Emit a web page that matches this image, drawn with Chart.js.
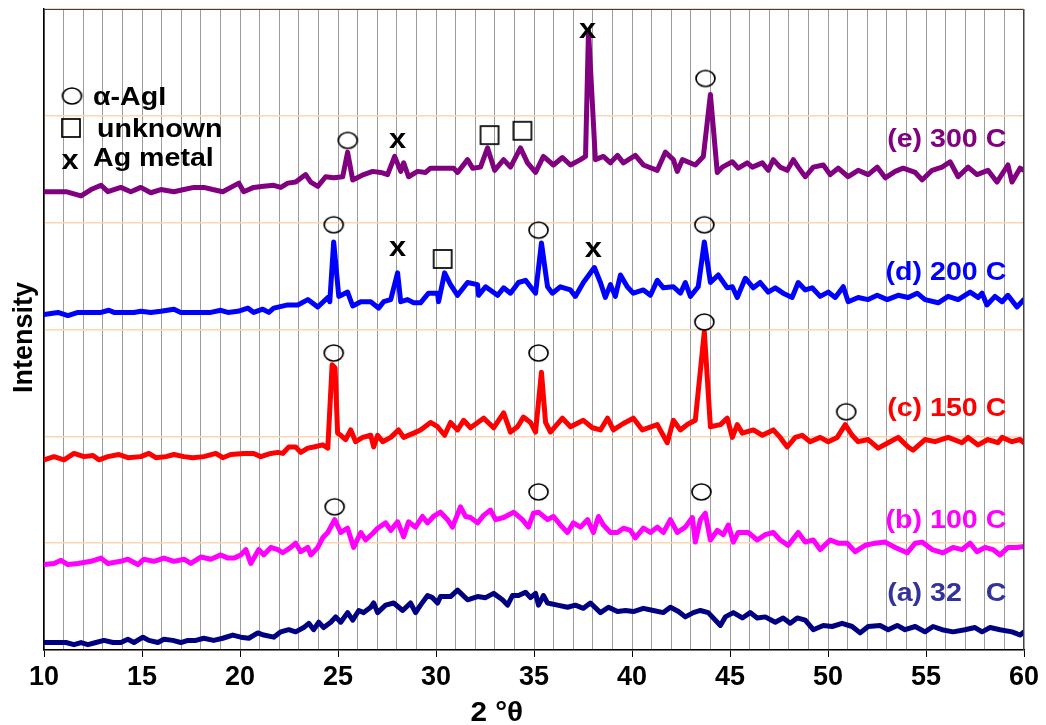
<!DOCTYPE html>
<html>
<head>
<meta charset="utf-8">
<script src="https://cdn.jsdelivr.net/npm/chart.js@4.4.1/dist/chart.umd.min.js"></script>
<style>
  html, body { margin: 0; padding: 0; background: #fff; }
  #wrap { width: 1046px; height: 725px; }
</style>
</head>
<body>
<div id="wrap"><canvas id="xrdChart" width="1046" height="725"></canvas></div>
<script>
// Axis labels
const xTickLabels = [10, 15, 20, 25, 30, 35, 40, 45, 50, 55, 60];
const seriesNames = ["(a) 32   C", "(b) 100 C", "(c) 150 C", "(d) 200 C", "(e) 300 C"];

// (a) 32 C
const thetaA = [10.0,10.61,11.12,11.53,11.89,12.24,12.65,13.06,13.52,13.92,
  14.28,14.59,15.05,15.35,15.81,16.12,16.57,16.98,17.34,17.75,
  18.15,18.66,19.12,19.63,20.04,20.45,20.91,21.21,21.72,22.08,
  22.49,22.84,23.25,23.51,23.76,24.02,24.27,24.63,24.88,25.14,
  25.49,25.75,26.06,26.31,26.67,26.82,27.02,27.43,27.84,28.3,
  28.7,28.96,29.21,29.57,29.82,30.08,30.23,30.74,31.1,31.61,
  32.12,32.53,32.94,33.39,33.65,33.9,34.21,34.57,34.82,35.08,
  35.23,35.48,35.69,36.2,36.71,37.11,37.52,37.88,38.39,38.8,
  39.26,39.67,40.07,40.58,41.09,41.6,41.96,42.37,42.72,43.13,
  43.49,43.89,44.51,44.76,45.17,45.63,46.03,46.39,46.8,47.31,
  47.71,48.07,48.43,48.84,49.25,49.76,50.21,50.72,51.23,51.64,
  52.05,52.66,53.07,53.53,53.93,54.45,54.95,55.36,55.82,56.38,
  56.99,57.5,57.86,58.27,58.78,59.39,59.8,60];
const intensityA = [7,7,7,5,7,5,7,9,7,7,
  10,7,12,9,7,10,9,7,9,9,
  11,9,11,14,12,11,16,14,12,17,
  19,17,21,25,19,26,21,26,31,26,
  35,28,37,35,40,44,35,42,44,37,
  44,35,42,51,49,44,50,50,56,47,
  50,49,53,47,42,51,51,54,49,53,
  42,51,44,42,40,42,39,44,35,40,
  36,37,36,39,37,35,40,36,31,35,
  37,35,23,31,35,30,35,30,31,26,
  30,25,30,28,19,23,22,25,22,16,
  22,23,19,23,19,22,17,22,19,17,
  19,21,17,21,19,17,14,17];

// (b) 100 C
const thetaB = [10.0,10.51,10.87,11.22,11.73,12.4,12.91,13.26,13.92,14.28,
  14.79,15.1,15.61,16.12,16.63,17.14,17.49,18.0,18.51,19.02,
  19.38,19.69,20.04,20.3,20.55,20.96,21.21,21.57,21.93,22.18,
  22.59,22.84,23.1,23.46,23.61,23.97,24.22,24.48,24.83,25.14,
  25.49,25.8,26.16,26.41,26.82,27.02,27.43,27.69,28.04,28.35,
  28.6,28.96,29.31,29.57,29.87,30.23,30.59,30.84,31.25,31.51,
  31.76,32.12,32.43,32.78,33.04,33.45,33.96,34.41,34.72,34.97,
  35.23,35.69,35.99,36.35,36.71,37.01,37.37,37.73,38.03,38.29,
  38.54,38.9,39.26,39.56,39.92,40.17,40.58,40.94,41.29,41.6,
  41.96,42.31,42.72,43.08,43.23,43.49,43.74,44.0,44.35,44.66,
  44.92,45.17,45.42,45.93,46.39,46.8,47.21,47.56,47.97,48.48,
  48.84,49.25,49.6,50.11,50.52,50.98,51.39,51.9,52.41,52.92,
  53.43,54.04,54.45,54.8,55.31,55.87,56.38,56.84,57.25,57.6,
  58.01,58.42,58.78,59.18,59.64,60];
const intensityB = [80,81,84,80,81,83,86,81,83,85,
  80,85,83,86,83,85,81,87,85,89,
  86,86,89,94,81,94,89,96,94,91,
  96,100,92,96,89,96,105,110,122,110,
  114,96,110,103,110,114,119,112,120,106,
  120,115,125,119,125,129,122,115,134,125,
  124,119,126,131,122,124,129,122,115,128,
  129,122,125,117,110,119,115,122,110,125,
  117,110,110,114,112,105,114,110,115,110,
  122,110,115,124,101,122,128,103,112,108,
  117,101,110,110,103,108,110,103,98,110,
  101,103,94,103,100,100,92,98,100,101,
  96,91,100,101,94,91,96,94,100,92,
  96,94,89,96,96,97];

// (c) 150 C
const thetaC = [10.0,10.51,11.02,11.53,12.04,12.5,12.8,13.26,13.82,14.28,
  14.94,15.35,15.71,16.22,16.63,17.14,17.59,18.15,18.77,19.12,
  19.53,20.19,20.7,21.06,21.57,21.93,22.18,22.49,22.84,23.1,
  23.46,23.76,24.22,24.48,24.7,24.85,24.98,25.14,25.39,25.65,25.9,
  26.26,26.67,26.82,27.02,27.28,27.69,28.09,28.35,28.86,29.21,
  29.72,30.08,30.44,30.74,31.1,31.41,31.76,32.43,32.94,33.45,
  33.8,34.16,34.46,34.82,35.08,35.38,35.59,35.84,36.45,36.86,
  37.52,37.98,38.39,38.75,39.05,39.56,40.07,40.53,41.29,41.8,
  42.11,42.47,42.82,43.23,43.69,44.0,44.51,44.86,45.12,45.37,
  45.63,46.19,46.65,47.21,47.56,47.92,48.33,48.68,49.09,49.6,
  50.01,50.47,50.88,51.23,51.54,52.05,52.56,53.07,53.58,54.09,
  54.34,54.95,55.46,56.13,56.84,57.15,57.66,58.16,58.67,58.88,
  59.39,59.8,60];
const intensityC = [178,181,178,184,181,182,178,181,183,180,
  181,184,180,181,183,181,180,181,184,180,
  183,184,184,181,184,185,184,190,190,185,
  189,190,192,189,267,264,203,201,197,206,195,
  199,201,190,201,195,199,206,199,203,206,
  213,209,201,213,206,215,208,217,208,222,
  204,209,218,213,204,260,213,204,217,209,
  215,208,206,217,206,212,217,206,211,194,
  215,206,211,215,298,209,211,217,199,211,
  203,206,201,206,199,190,199,201,195,199,
  195,199,211,201,195,197,189,194,199,190,
  187,197,195,199,194,199,192,197,194,199,
  195,197,194];

// (d) 200 C
const thetaD = [10.0,10.71,11.22,11.73,12.4,12.91,13.31,13.57,14.08,14.59,
  14.94,15.45,15.96,16.63,16.98,17.49,18.0,18.51,19.02,19.38,
  19.89,20.4,20.7,21.16,21.47,21.72,22.44,22.95,23.46,23.97,
  24.48,24.58,24.78,25.04,25.49,25.75,26.16,26.67,27.07,27.33,
  27.69,28.04,28.2,28.55,28.86,29.21,29.62,30.08,30.13,30.44,
  30.74,31.1,31.61,32.12,32.17,32.53,33.14,33.45,33.8,34.21,
  34.57,34.82,35.08,35.38,35.69,35.94,36.35,36.86,37.11,37.52,
  38.08,38.39,38.64,38.9,39.15,39.41,39.76,40.07,40.58,40.94,
  41.29,41.6,42.11,42.47,42.72,42.98,43.38,43.69,44.0,44.4,
  44.86,45.12,45.37,45.78,46.19,46.54,46.95,47.31,47.71,48.17,
  48.48,48.84,49.19,49.6,50.01,50.37,50.78,51.03,51.54,52.05,
  52.51,53.02,53.58,54.09,54.55,54.95,55.62,56.13,56.64,57.25,
  57.66,57.86,58.11,58.52,58.88,59.18,59.64,60];
const intensityD = [314,316,313,316,316,316,318,316,316,316,
  317,316,317,319,316,316,316,316,318,316,
  317,320,316,319,316,320,323,323,328,321,
  330,326,382,331,335,322,326,326,320,326,
  328,353,326,328,325,325,334,334,326,353,
  342,332,344,342,332,340,332,339,334,344,
  346,340,334,381,340,334,340,337,331,344,
  358,344,330,342,331,351,340,334,337,332,
  346,339,340,334,344,331,340,382,344,351,
  339,340,330,348,339,344,335,339,334,330,
  344,337,339,331,335,330,340,326,330,328,
  332,328,332,330,334,328,325,331,328,335,
  330,334,323,331,326,332,321,328];

// (e) 300 C
const thetaE = [10.0,11.12,11.89,12.4,12.91,13.26,13.92,14.43,14.94,15.45,
  15.96,16.63,17.14,17.65,18.15,18.61,19.12,19.63,19.94,20.19,
  20.7,21.21,21.72,22.08,22.44,22.84,23.35,23.61,23.97,24.37,
  24.78,25.24,25.49,25.75,26.31,26.77,27.18,27.53,27.89,28.2,
  28.35,28.6,29.06,29.47,29.72,30.08,30.9,31.1,31.61,31.87,
  32.27,32.63,32.99,33.45,33.8,34.31,34.67,35.08,35.48,35.99,
  36.45,36.86,37.37,37.63,37.78,38.13,38.54,38.9,39.26,39.56,
  40.17,40.58,41.29,41.7,42.11,42.31,42.57,43.23,43.64,44.0,
  44.35,44.61,45.12,45.42,45.88,46.14,46.65,46.95,47.21,47.56,
  47.92,48.23,48.48,48.84,49.25,49.76,50.11,50.52,51.03,51.54,
  52.05,52.51,52.92,53.43,53.83,54.45,54.8,55.31,55.82,56.23,
  56.64,57.15,57.6,58.16,58.62,59.18,59.39,59.8,60];
const intensityE = [429,429,425,431,435,429,433,429,433,428,
  431,429,431,433,433,431,429,434,437,429,
  433,434,435,433,437,438,445,438,434,443,
  442,443,466,440,445,448,447,445,462,448,
  456,443,448,447,451,451,451,447,459,451,
  452,470,449,459,452,470,456,447,462,454,
  461,454,459,462,580,459,462,456,463,456,
  463,454,449,466,459,448,459,454,462,520,
  447,452,457,451,456,452,456,449,459,452,
  449,459,452,443,452,454,445,451,443,449,
  445,452,442,448,451,447,440,449,452,457,
  443,452,445,449,438,454,438,451,449];

// Peak markers
const agiTheta = [25.5, 43.75, 24.78, 35.23, 43.69, 24.78, 35.23, 43.69, 50.93, 24.83, 35.23, 43.54];
const agiIntensity = [477, 535, 398, 393, 398, 278, 278, 307, 223, 134, 148, 148];
const unknownTheta = [32.73, 34.41, 30.34];
const unknownIntensity = [482, 486, 366];
const agMetalTheta = [28.04, 37.73, 28.04, 38.03];
const agMetalIntensity = [477, 580, 376, 375];

// ---- styling ----
const lineColors = ["#000080", "#ff00ff", "#ff0000", "#0000ff", "#800080"];
const labelColors = ["#333399", "#ff00ff", "#ff0000", "#0000ff", "#800080"];
const labelAnchor = { theta: 59.1, levels: [53, 121, 226, 353, 478] };
const FONT = '"Liberation Sans", Arial, sans-serif';
const STRETCH = 1.1;

const toPoints = (xs, ys) => xs.map((t, i) => ({ x: t, y: ys[i] }));

function ringImage(w, h) {
  const c = document.createElement("canvas");
  c.width = w + 4; c.height = h + 4;
  const g = c.getContext("2d");
  g.strokeStyle = "#000"; g.lineWidth = 1.7;
  g.beginPath();
  g.ellipse(c.width / 2, c.height / 2, w / 2, h / 2, 0, 0, Math.PI * 2);
  g.stroke();
  return c;
}
function boxImage(s) {
  const c = document.createElement("canvas");
  c.width = s + 4; c.height = s + 4;
  const g = c.getContext("2d");
  g.strokeStyle = "#000"; g.lineWidth = 1.7;
  g.strokeRect(2, 2, s, s);
  return c;
}
const ring = ringImage(19, 16);
const box = boxImage(18);

function stretchedText(ctx, text, x, y, size, color, align, sx) {
  sx = sx || STRETCH;
  ctx.save();
  ctx.font = "bold " + size + "px " + FONT;
  ctx.fillStyle = color;
  ctx.textBaseline = "middle";
  ctx.textAlign = "left";
  const w = ctx.measureText(text).width * sx;
  let left = x;
  if (align === "right") left = x - w;
  else if (align === "center") left = x - w / 2;
  ctx.translate(left, y);
  ctx.scale(sx, 1);
  ctx.fillText(text, 0, 0);
  ctx.restore();
}

const overlay = {
  id: "overlay",
  afterDatasetsDraw(chart) {
    const { ctx, chartArea: a, scales } = chart;
    const xs = scales.x, ys = scales.y;

    // frame top and right
    ctx.save();
    ctx.strokeStyle = "#404040";
    ctx.lineWidth = 1;
    ctx.beginPath();
    ctx.moveTo(a.left, a.top + 0.5);
    ctx.lineTo(a.right - 0.5, a.top + 0.5);
    ctx.lineTo(a.right - 0.5, a.bottom);
    ctx.stroke();
    ctx.restore();

    // series names
    seriesNames.forEach((name, i) => {
      stretchedText(ctx, name, xs.getPixelForValue(labelAnchor.theta),
        ys.getPixelForValue(labelAnchor.levels[i]), 26, labelColors[i], "right");
    });

    // Ag metal marks
    agMetalTheta.forEach((t, i) => {
      stretchedText(ctx, "x", xs.getPixelForValue(t), ys.getPixelForValue(agMetalIntensity[i]),
        28, "#000", "center");
    });

    // legend in the top left corner
    const lx = a.left, ly = a.top;
    ctx.drawImage(ring, lx + 28 - ring.width / 2, ly + 87 - ring.height / 2);
    stretchedText(ctx, "\u03B1-AgI", lx + 49, ly + 89, 26, "#000", "left");
    ctx.drawImage(boxImage(18), lx + 27 - 11, ly + 119 - 11);
    stretchedText(ctx, "unknown", lx + 53, ly + 121, 26, "#000", "left");
    stretchedText(ctx, "x", lx + 26, ly + 152, 28, "#000", "center");
    stretchedText(ctx, "Ag metal", lx + 49, ly + 150, 26, "#000", "left");

    // axis titles
    ctx.save();
    ctx.translate(25, (a.top + a.bottom) / 2 + 8);
    ctx.rotate(-Math.PI / 2);
    ctx.font = "bold 27px " + FONT;
    ctx.fillStyle = "#000";
    ctx.textAlign = "center";
    ctx.textBaseline = "middle";
    ctx.fillText("Intensity", 0, 0);
    ctx.restore();

    stretchedText(ctx, "2 \u00B0\u03B8", xs.getPixelForValue(33.1), a.bottom + 64, 27, "#000", "center");
  }
};

const lineSets = [
  [thetaA, intensityA], [thetaB, intensityB], [thetaC, intensityC], [thetaD, intensityD], [thetaE, intensityE]
].map(([t, v], i) => ({
  label: seriesNames[i],
  data: toPoints(t, v),
  borderColor: lineColors[i],
  borderWidth: 5,
  borderJoinStyle: "round",
  borderCapStyle: "round",
  pointRadius: 0,
  tension: 0,
  fill: false
}));

const markerSets = [
  { label: "\u03B1-AgI", data: toPoints(agiTheta, agiIntensity), pointStyle: ring },
  { label: "unknown", data: toPoints(unknownTheta, unknownIntensity), pointStyle: box }
].map(d => Object.assign(d, { showLine: false, pointRadius: 9, borderWidth: 0 }));

new Chart(document.getElementById("xrdChart"), {
  type: "line",
  data: { datasets: [...markerSets, ...lineSets] },
  options: {
    responsive: false,
    devicePixelRatio: 1,
    animation: false,
    layout: { padding: { top: 9, right: 22, left: 0, bottom: 0 } },
    plugins: { legend: { display: false }, tooltip: { enabled: false } },
    scales: {
      x: {
        type: "linear",
        min: 10, max: 60,
        afterFit: s => { s.height = 75; },
        ticks: {
          stepSize: 1,
          autoSkip: false,
          maxRotation: 0,
          padding: 4,
          color: "#000",
          font: { family: FONT, weight: "bold", size: 27 },
          callback: v => (xTickLabels.includes(v) ? v : "")
        },
        grid: {
          color: "#9c9c9c",
          lineWidth: 1,
          tickLength: 7,
          tickColor: c => (c.tick && c.tick.value % 5 === 0 ? "#000" : "rgba(0,0,0,0)")
        },
        border: { color: "#000", width: 1.5 }
      },
      y: {
        min: 0, max: 600,
        afterFit: s => { s.width = 44; },
        ticks: { stepSize: 100, display: false },
        grid: { color: "#fcd5b4", lineWidth: 1.5, drawTicks: false },
        border: { color: "#000", width: 1.5 }
      }
    }
  },
  plugins: [overlay]
});
</script>
</body>
</html>
